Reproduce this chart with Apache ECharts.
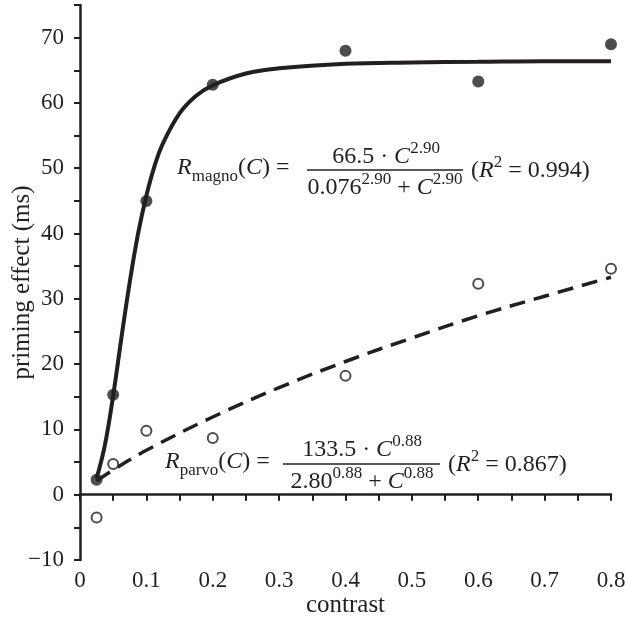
<!DOCTYPE html>
<html>
<head>
<meta charset="utf-8">
<script src="https://cdn.jsdelivr.net/npm/echarts@6/dist/echarts.min.js"></script>
<style>
  html, body { margin: 0; padding: 0; background: #fff; }
  #chart { width: 625px; height: 624px; }
</style>
</head>
<body>
<div id="chart"></div>
<script>
// 测量点（对比度）
const contrast = [0.025, 0.05, 0.1, 0.2, 0.4, 0.6, 0.8];
const magnoData = [2.3, 15.3, 45.0, 62.8, 68.0, 63.3, 69.0];
const parvoData = [-3.5, 4.7, 9.8, 8.7, 18.2, 32.3, 34.6];

// 拟合曲线
const magnoFitX = [0.025, 0.0375, 0.05, 0.0625, 0.075, 0.0875, 0.1, 0.1125, 0.125, 0.15, 0.175, 0.2, 0.25, 0.3, 0.4, 0.5, 0.6, 0.7, 0.8];
const magnoFitY = [2.5, 7.6, 15.2, 24.1, 32.6, 40.0, 45.8, 50.4, 53.8, 58.4, 61.1, 62.7, 64.5, 65.3, 66.0, 66.2, 66.3, 66.4, 66.4];
const parvoFitX = [0.025, 0.05, 0.1, 0.2, 0.3, 0.4, 0.5, 0.6, 0.7, 0.8];
const parvoFitY = [2.1, 3.8, 6.8, 11.9, 16.4, 20.4, 24.0, 27.4, 30.4, 33.3];

// 坐标轴刻度
const yTicks = [-10, 0, 10, 20, 30, 40, 50, 60, 70];
const xTicks = [0, 0.1, 0.2, 0.3, 0.4, 0.5, 0.6, 0.7, 0.8];

const ink = "#231f20";
const serif = "Liberation Serif";

const pairs = (xs, ys) => xs.map((x, i) => [x, ys[i]]);

// 公式用的富文本样式
const rich = {
  i: { fontFamily: serif, fontSize: 24, fontStyle: "italic", fill: ink },
  sub: { fontFamily: serif, fontSize: 17, verticalAlign: "bottom", fill: ink },
  sup: { fontFamily: serif, fontSize: 17, verticalAlign: "top", fill: ink },
};
const txt = (x, y, text, align) => ({
  type: "text",
  x: x,
  y: y,
  z: 100,
  style: {
    text: text,
    rich: rich,
    fontFamily: serif,
    fontSize: 24,
    fill: ink,
    lineHeight: 34,
    align: align || "left",
    verticalAlign: "middle",
  },
});
const bar = (x1, x2, y) => ({
  type: "line",
  z: 100,
  shape: { x1: x1, y1: y, x2: x2, y2: y },
  style: { stroke: ink, lineWidth: 1.6 },
});

const option = {
  animation: false,
  backgroundColor: "#fff",
  grid: { left: 80, right: 14, top: 5, bottom: 64, outerBoundsMode: "none" },
  xAxis: {
    type: "value",
    min: 0,
    max: 0.8,
    interval: 0.05,
    name: "contrast",
    nameLocation: "middle",
    nameGap: 33,
    nameMoveOverlap: false,
    nameTextStyle: { fontFamily: serif, fontSize: 25, color: ink },
    axisLine: { lineStyle: { color: ink, width: 2.5 } },
    axisTick: { length: 6, lineStyle: { color: ink, width: 2 } },
    axisLabel: {
      margin: 9,
      fontFamily: serif,
      fontSize: 23,
      color: ink,
      formatter: (v) => {
        const t = xTicks.find((k) => Math.abs(k - v) < 1e-6);
        return t === undefined ? "" : String(t);
      },
    },
    splitLine: { show: false },
  },
  yAxis: {
    type: "value",
    min: -10,
    max: 75,
    interval: 5,
    name: "priming effect (ms)",
    nameLocation: "middle",
    nameGap: 45,
    nameMoveOverlap: false,
    nameTextStyle: { fontFamily: serif, fontSize: 25, color: ink },
    axisLine: { lineStyle: { color: ink, width: 2.5 } },
    axisTick: { length: 6, lineStyle: { color: ink, width: 2 } },
    axisLabel: {
      margin: 16,
      fontFamily: serif,
      fontSize: 23,
      color: ink,
      formatter: (v) => {
        const t = yTicks.find((k) => Math.abs(k - v) < 1e-6);
        if (t === undefined) return "";
        return t < 0 ? "\u2212" + -t : String(t);
      },
    },
    splitLine: { show: false },
  },
  series: [
    {
      name: "magno fit",
      type: "line",
      data: pairs(magnoFitX, magnoFitY),
      smooth: 0.4,
      showSymbol: false,
      lineStyle: { color: ink, width: 4 },
      z: 2,
    },
    {
      name: "parvo fit",
      type: "line",
      data: pairs(parvoFitX, parvoFitY),
      smooth: 0.4,
      showSymbol: false,
      lineStyle: { color: ink, width: 3.5, type: [16, 9] },
      z: 2,
    },
    {
      name: "magno",
      type: "scatter",
      data: pairs(contrast, magnoData),
      symbolSize: 12,
      itemStyle: { color: ink },
      z: 3,
    },
    {
      name: "parvo",
      type: "scatter",
      data: pairs(contrast, parvoData),
      symbolSize: 10,
      itemStyle: { color: "#fff", borderColor: ink, borderWidth: 2 },
      z: 3,
    },
  ],
  graphic: [
    // R_magno
    txt(177, 168, "{i|R}{sub|magno}({i|C}) ="),
    txt(386, 157, "66.5 \u00b7 {i|C}{sup|2.90}", "center"),
    bar(307, 463, 170),
    txt(385, 188, "0.076{sup|2.90} + {i|C}{sup|2.90}", "center"),
    txt(471, 171, "({i|R}{sup|2} = 0.994)"),
    // R_parvo
    txt(165, 462, "{i|R}{sub|parvo}({i|C}) ="),
    txt(362, 450, "133.5 \u00b7 {i|C}{sup|0.88}", "center"),
    bar(283, 440, 464),
    txt(362, 482, "2.80{sup|0.88} + {i|C}{sup|0.88}", "center"),
    txt(448, 465, "({i|R}{sup|2} = 0.867)"),
  ],
};

const chart = echarts.init(document.getElementById("chart"), null, { renderer: "canvas" });
chart.setOption(option);
</script>
</body>
</html>
